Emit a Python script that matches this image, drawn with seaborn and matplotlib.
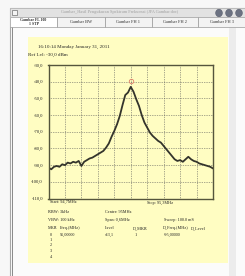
import numpy as np
import pandas as pd
import seaborn as sns
import matplotlib.pyplot as plt
from matplotlib.patches import Rectangle, Circle
from matplotlib.transforms import offset_copy

# spectrum trace (94.70 .. 95.30 MHz, 0.01 MHz steps)
freq_mhz = [round(94.70 + 0.01 * i, 2) for i in range(61)]
level_dbm = [-91.5, -92.5, -91.0, -90.5, -91.0, -89.5, -90.0, -88.5, -89.0, -88.0,
             -88.5, -87.5, -90.5, -88.0, -87.0, -86.0, -85.5, -84.5, -83.5, -82.5,
             -81.5, -79.5, -77.0, -73.0, -69.5, -65.5, -60.5, -54.0, -48.0, -46.5,
             -43.1, -46.0, -50.5, -54.5, -60.0, -64.5, -67.5, -70.5, -72.5, -74.0,
             -75.5, -76.5, -78.5, -80.5, -82.5, -84.5, -86.5, -87.5, -87.0, -88.0,
             -86.5, -85.0, -86.5, -87.5, -88.0, -89.0, -89.5, -90.0, -90.5, -91.0, -92.0]
y_ticks = [-30, -40, -50, -60, -70, -80, -90, -100, -110]
y_labels = ["-30,0", "-40,0", "-50,0", "-60,0", "-70,0", "-80,0", "-90,0", "-100,0", "-110,0"]
mkr_freq = 95.0
mkr_level = -43.1

tabs = ["Gambar FL 100\n1 STP", "Gambar BW", "Gambar FH 1", "Gambar FH 2", "Gambar FH 3"]
win_title = "Gambar_Hasil Pengukuran Spektrum Frekuensi (JFA Gambar.doc)"

W, H = 245, 276
YEL = "#fffdc2"

def fx(x):
    return x / W

def fy(y):
    return 1 - y / H

sns.set_style("white")
plt.rcParams['font.family'] = ['Liberation Serif', 'DejaVu Serif']

fig = plt.figure(figsize=(W / 100, H / 100), dpi=100)
fig.patch.set_facecolor("#f7f7f7")

def rect(x0, y0, x1, y1, fc, ec="none", lw=0.6, z=0):
    fig.add_artist(Rectangle((fx(x0), fy(y1)), fx(x1) - fx(x0), fy(y0) - fy(y1),
                             transform=fig.transFigure, facecolor=fc, edgecolor=ec,
                             linewidth=lw, zorder=z))

# window chrome
rect(10, 8, 246, 277, "#fbfbfb", "#a8a8a8", 0.8)
rect(10, 8, 246, 17, "#e2e2e2", "#b8b8b8", 0.5)
rect(12, 10, 17, 15, "#f4f4f4", "#707070", 0.5)
fig.text(fx(120), fy(12.5), win_title, fontsize=3.2, color="#a0a0a0",
         ha="center", va="center")
for cx in [219, 229, 239]:
    fig.add_artist(Circle((fx(cx), fy(13)), 3.4 / W, transform=fig.transFigure,
                          facecolor="#6c7282", edgecolor="#4a5060", linewidth=0.3))

tab_x = [10, 57, 105, 152, 198, 245]
rect(10, 17, 246, 27, "#f1f1f1")
for i, name in enumerate(tabs):
    fc = "#ffffff" if i == 0 else "#f3f3f3"
    rect(tab_x[i], 17.5, tab_x[i + 1], 26.5, fc, "#9a9a9a", 0.5, 1)
    fig.text(fx((tab_x[i] + tab_x[i + 1]) / 2), fy(21.8), name,
             fontsize=2.8 if i == 0 else 3.2, color="#303030", ha="center", va="center",
             linespacing=0.9, fontweight="bold" if i == 0 else "normal", zorder=2)
rect(12, 27, 12.8, 277, "#8c8c8c")
rect(229, 27, 236, 277, "#ececec")

# yellow report panel
rect(28, 37, 227.5, 263, YEL)
fig.text(fx(38), fy(47), "16:10:14 Monday January 31, 2011", fontsize=3.6, color="#222222", va="center")
fig.text(fx(28), fy(55), "Ref Lvl: -30,0 dBm", fontsize=3.6, color="#222222", va="center")

# spectrum plot
ax = fig.add_axes([fx(48.5), fy(198.5), fx(213) - fx(48.5), fy(65) - fy(198.5)])
ax.set_facecolor(YEL)
df = pd.DataFrame({"freq": freq_mhz, "level": level_dbm})
sns.lineplot(data=df, x="freq", y="level", ax=ax, color="#34342c", linewidth=1.3)
mk_tr = offset_copy(ax.transData, fig=fig, x=0, y=6, units="dots")
ax.plot([mkr_freq], [mkr_level], marker="o", ms=3.2, mfc="none", mec="#e0806a",
        mew=0.6, transform=mk_tr)
ax.set_xlim(freq_mhz[0], freq_mhz[-1])
ax.set_ylim(-110, -30)
ax.set_xticks([94.70 + 0.06 * k for k in range(11)])
ax.set_xticklabels([])
ax.set_yticks(y_ticks)
ax.set_yticklabels(y_labels, fontsize=3.3, color="#222222")
ax.tick_params(length=0, pad=4)
ax.grid(True, color="#555555", linestyle=(0, (1, 1.5)), linewidth=0.5)
ax.set_xlabel("")
ax.set_ylabel("")
for sp in ax.spines.values():
    sp.set_color("#55553c")
    sp.set_linewidth(1.0)

# footer text block
fs = 3.1
col = "#222222"
rows = [
    (50, 202, "Start: 94,7MHz"), (147, 203, "Stop: 95,3MHz"),
    (48, 212, "RBW: 3kHz"), (105, 212, "Center: 95MHz"),
    (48, 220, "VBW: 100 kHz"), (105, 220, "Span: 0,6MHz"), (164, 220, "Sweep: 100.0 mS"),
    (48, 228, "MKR"), (60, 228, "Freq.(MHz)"), (105, 228, "Level"),
    (133, 228, "D_MKR"), (163, 228, "D_Freq.(MHz)"), (191, 228, "D_Level"),
    (50, 234.5, "0"), (60, 234.5, "95,00000"), (105, 234.5, "-43,1"),
    (135, 234.5, "1"), (164, 234.5, "-95,00000"),
    (50, 240, "1"), (50, 245.5, "2"), (50, 251, "3"), (50, 256.5, "4"),
]
for x, y, s in rows:
    fig.text(fx(x), fy(y), s, fontsize=fs, color=col, va="center")

plt.savefig("out.png", dpi=100, facecolor=fig.get_facecolor())
